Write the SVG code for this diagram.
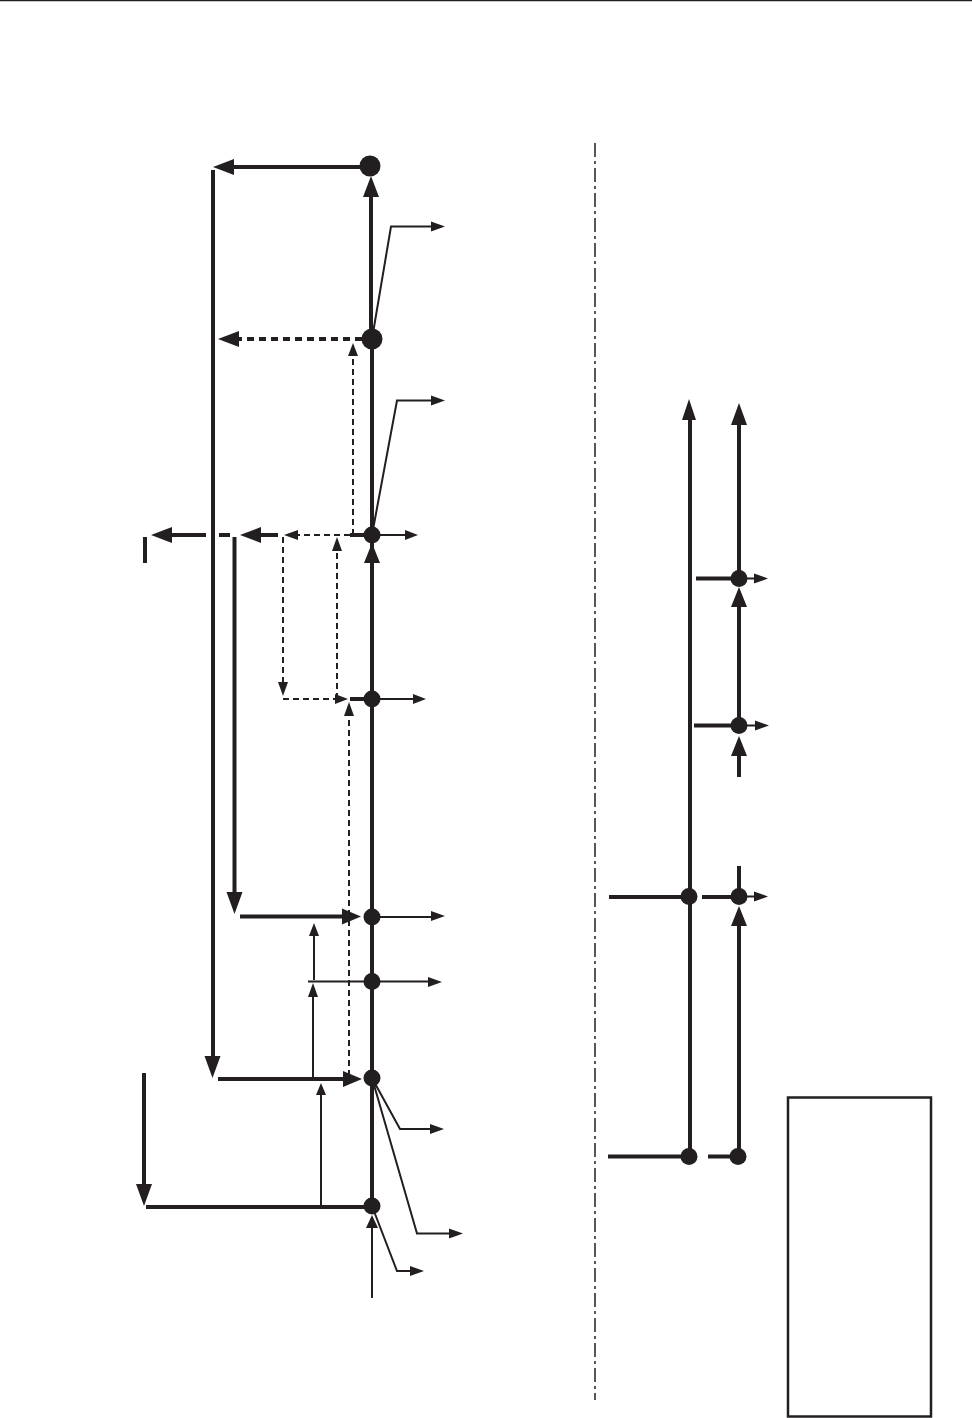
<svg xmlns="http://www.w3.org/2000/svg" width="972" height="1418" viewBox="0 0 972 1418">
<style>
.k{fill:none;stroke:#231f20;stroke-width:4}
.m{fill:none;stroke:#231f20;stroke-width:3}
.t{fill:none;stroke:#231f20;stroke-width:2}
.dk{fill:none;stroke:#231f20;stroke-width:4;stroke-dasharray:7 5}
.dt{fill:none;stroke:#231f20;stroke-width:2;stroke-dasharray:6 4}
.h,.n{fill:#231f20;stroke:none}
</style>
<rect width="972" height="1418" fill="#fff"/>
<g id="connectors">
<path class="t" d="M0 0.5H972" style="stroke-width:1.5"/>
<path class="t" d="M595 143V1400" style="stroke-width:1.5;stroke-dasharray:14 4 3 4"/>
<path class="k" d="M372 1206V339M371 339V192M360 167H230M213 170V1060M234.500 537V895M372 535H350M278 535H258M206 535H170M219 535H230M145 537V563M372 699H350M240 916.500H345M218 1079H345M146 1207H365M144 1073V1186"/>
<path class="dk" d="M362 339H236"/>
<path class="dt" d="M353 535V354M350 535H295M283 537V684M283 699H336M337 699V550M349 1076V715"/>
<path class="t" d="M372 339L391 226.500H433M372 535L397 400.500H432M372 535H406M372 699H414M372 917H433M308 981.500H372H430M372 1078L400 1129H431M372 1078L417 1233.500H450M372 1206L397 1271H412M372 1298V1226M314 980V935M313 1078V996M321 1206V1094"/>
<path class="k" d="M690 1156V418M739 1156V920M739 896V866M739 777V750M739 725V600M739 578V420M609 897H689M702 897H739M608 1156.500H689M708 1156.500H738M696 578.500H739M694 725.500H739"/>
<path class="t" d="M739 578.500H757M739 725.500H758M739 896.500H757"/>
</g>
<g id="arrowheads">
<path class="h" d="M371 176l-8 21h16zM213 167l21-8v16zM218 339l21-8v16zM151 535l21-8v16zM240 535l21-8v16zM234.500 914l-8-22h16zM212.500 1078l-8-22h16zM144 1206l-8-22h16zM372 543l-8 20h16zM361 916.500l-19-8v16zM362 1079l-19-8v16z"/>
<path class="h" d="M353 343l-5 13h10zM284 535l14-5v10zM337 537l-5 14h10zM283 696l-5-14h10zM348 699l-13-5v10zM349 702l-5 14h10z"/>
<path class="h" d="M445 226.500l-14-5v10zM445 400.500l-14-5v10zM418 535l-13-5v10zM426 699l-13-5v10zM445 916l-14-5v10zM442 982l-14-5v10zM444 1129l-14-5v10zM463 1233.500l-14-5v10zM424 1271l-14-5v10zM372 1215l-6 13h12zM314 923l-5 13h10zM313 983l-5 14h10zM321 1083l-5 12h10z"/>
<path class="h" d="M689 399l-7 21h14zM739 403l-8 22h16zM739 587l-8 20h16zM739 736l-8 20h16zM739 906l-8 20h16zM768 578.500l-14-5v10zM769 725.500l-14-5v10zM768 896.500l-14-5v10z"/>
</g>
<g id="node-1"><circle class="n" cx="370" cy="166" r="10.500"/></g>
<g id="node-2"><circle class="n" cx="372" cy="339" r="10.500"/></g>
<g id="node-3"><circle class="n" cx="372" cy="535" r="8.500"/></g>
<g id="node-4"><circle class="n" cx="372" cy="699" r="8.500"/></g>
<g id="node-5"><circle class="n" cx="372" cy="917" r="8.500"/></g>
<g id="node-6"><circle class="n" cx="372" cy="981.500" r="8.500"/></g>
<g id="node-7"><circle class="n" cx="372" cy="1078" r="8.500"/></g>
<g id="node-8"><circle class="n" cx="372" cy="1206" r="8.500"/></g>
<g id="node-9"><circle class="n" cx="739" cy="578.500" r="8.500"/></g>
<g id="node-10"><circle class="n" cx="739" cy="725.500" r="8.500"/></g>
<g id="node-11"><circle class="n" cx="689" cy="896.500" r="8.500"/></g>
<g id="node-12"><circle class="n" cx="739" cy="896.500" r="8.500"/></g>
<g id="node-13"><circle class="n" cx="689" cy="1156.500" r="8.500"/></g>
<g id="node-14"><circle class="n" cx="738" cy="1156.500" r="8.500"/></g>
<g id="legend-box"><rect x="788" y="1097.500" width="143" height="319" fill="none" stroke="#231f20" stroke-width="2.500"/></g>
</svg>
